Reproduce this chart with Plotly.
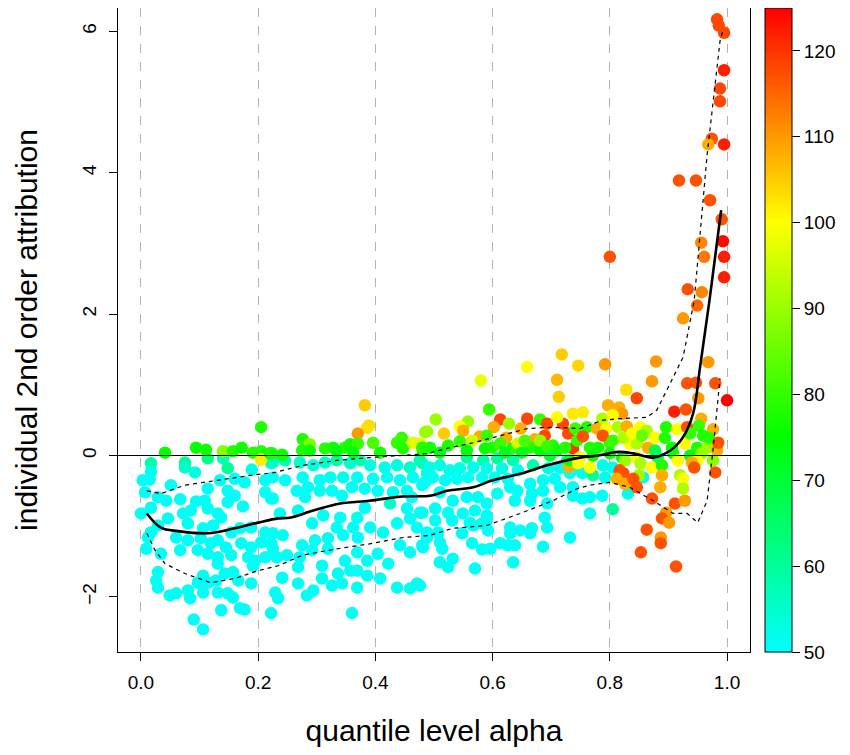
import plotly.graph_objects as go

# ---------------- data (alpha, attribution, level) ----------------
cyan_left = [
    (0.017,-0.11,58),(0.075,-0.10,60),(0.114,-0.04,62),(0.140,-0.04,56),(0.148,-0.18,60),(0.092,-0.24,53),
    (0.075,-0.17,55),(0.017,-0.23,52),(0.003,-0.35,51),(0.015,-0.34,51),(0.189,-0.20,52),(0.222,-0.11,53),
    (0.160,-0.33,51),(0.177,-0.38,51),(0.135,-0.35,51),(0.212,-0.35,51),(0.051,-0.42,51),(0.007,-0.52,51),
    (0.029,-0.59,51),(0.114,-0.47,51),(0.148,-0.50,51),(0.160,-0.57,51),(0.212,-0.52,51),(0.222,-0.61,51),
    (0.043,-0.64,51),(0.067,-0.62,51),(0.094,-0.65,51),(0.109,-0.64,51),(0.017,-0.74,51),(0.174,-0.72,51),
    (0.148,-0.66,51),(0.114,-0.75,51),(0.085,-0.78,51),(0.072,-0.82,51),(0.000,-0.82,51),(0.131,-0.82,51),
    (0.137,-0.88,51),(0.046,-0.89,51),(0.029,-0.99,51),(0.080,-0.96,51),(0.106,-1.03,51),(0.123,-0.99,51),
    (0.154,-1.09,51),(0.169,-1.03,51),(0.188,-1.02,51),(0.212,-1.09,51),(0.225,-1.10,51),(0.012,-1.16,51),
    (0.017,-1.09,51),(0.060,-1.16,51),(0.080,-1.20,51),(0.102,-1.17,51),(0.119,-1.24,51),(0.131,-1.20,51),
    (0.145,-1.30,51),(0.171,-1.24,51),(0.188,-1.30,51),(0.205,-1.23,51),(0.222,-1.24,51),(0.009,-1.32,51),
    (0.067,-1.34,51),(0.097,-1.34,51),(0.114,-1.39,51),(0.131,-1.44,51),(0.154,-1.41,51),(0.183,-1.44,51),
    (0.195,-1.49,51),(0.212,-1.44,51),(0.034,-1.39,51),(0.131,-1.53,51),(0.191,-1.56,51),(0.029,-1.65,51),
    (0.026,-1.77,51),(0.106,-1.70,51),(0.143,-1.67,51),(0.157,-1.65,51),(0.097,-1.80,51),(0.114,-1.80,51),
    (0.128,-1.77,51),(0.166,-1.77,51),(0.188,-1.81,51),(0.029,-1.87,51),(0.049,-1.98,51),(0.060,-1.95,51),
    (0.080,-1.91,51),(0.084,-2.02,51),(0.106,-1.94,51),(0.131,-1.94,51),(0.148,-1.95,51),(0.157,-2.01,51),
    (0.229,-1.94,51),(0.137,-2.19,51),(0.169,-2.16,51),(0.177,-2.18,51),(0.222,-2.23,51),(0.090,-2.32,51),
    (0.106,-2.46,51),
]

cyan_mid = [
    (0.225,-0.10,56),(0.246,-0.07,57),(0.271,-0.10,55),(0.294,-0.14,53),(0.314,-0.10,55),(0.334,-0.07,58),
    (0.357,-0.11,55),(0.374,-0.07,58),(0.391,-0.14,53),(0.416,-0.17,52),(0.437,-0.14,53),(0.459,-0.17,55),
    (0.480,-0.11,56),(0.488,-0.25,52),(0.225,-0.31,51),(0.246,-0.35,51),(0.276,-0.31,51),(0.305,-0.35,51),
    (0.323,-0.31,51),(0.345,-0.31,52),(0.369,-0.31,51),(0.396,-0.33,51),(0.420,-0.31,51),(0.442,-0.35,51),
    (0.464,-0.31,51),(0.485,-0.38,51),(0.266,-0.50,51),(0.285,-0.45,51),(0.305,-0.50,51),(0.326,-0.50,51),
    (0.343,-0.57,51),(0.360,-0.45,51),(0.382,-0.47,51),(0.404,-0.50,51),(0.430,-0.52,51),(0.454,-0.50,51),
    (0.480,-0.42,51),(0.225,-0.61,51),(0.280,-0.59,51),(0.425,-0.68,55),(0.462,-0.59,51),(0.268,-0.78,51),
    (0.292,-0.96,51),(0.311,-0.85,51),(0.340,-0.88,51),(0.369,-0.88,51),(0.382,-0.74,51),(0.454,-0.75,51),
    (0.480,-0.81,51),(0.237,-0.82,51),(0.362,-1.02,51),(0.242,-1.13,51),(0.275,-1.27,51),(0.297,-1.20,51),
    (0.319,-1.17,51),(0.334,-1.02,51),(0.345,-1.13,51),(0.370,-1.16,51),(0.391,-1.02,51),(0.413,-1.09,51),
    (0.437,-0.96,51),(0.459,-0.89,51),(0.471,-1.02,51),(0.488,-1.16,51),(0.225,-1.32,51),(0.249,-1.41,51),
    (0.232,-1.44,51),(0.271,-1.44,51),(0.292,-1.34,51),(0.319,-1.32,51),(0.348,-1.49,51),(0.369,-1.37,51),
    (0.386,-1.49,51),(0.404,-1.39,51),(0.422,-1.53,51),(0.442,-1.27,51),(0.459,-1.37,51),(0.480,-1.27,51),
    (0.357,-1.63,51),(0.268,-1.58,51),(0.241,-1.73,51),(0.309,-1.56,51),(0.336,-1.67,51),(0.369,-1.63,51),
    (0.268,-1.81,51),(0.309,-1.74,51),(0.326,-1.84,51),(0.343,-1.81,51),(0.369,-1.87,51),(0.386,-1.70,51),
    (0.408,-1.74,51),(0.437,-1.87,51),(0.459,-1.88,51),(0.471,-1.81,51),(0.283,-1.98,51),(0.294,-1.91,51),
    (0.234,-2.02,51),(0.360,-2.23,51),
]

cyan_right = [
    (0.556,-0.03,60),(0.584,-0.07,58),(0.608,-0.04,60),(0.635,-0.07,58),(0.669,-0.14,58),(0.727,-0.07,60),
    (0.476,-0.07,57),(0.493,-0.17,52),(0.510,-0.14,53),(0.527,-0.21,52),(0.544,-0.18,52),(0.567,-0.17,52),
    (0.590,-0.18,52),(0.616,-0.18,53),(0.643,-0.21,52),(0.695,-0.18,53),(0.715,-0.18,52),(0.744,-0.17,52),
    (0.481,-0.40,51),(0.498,-0.31,51),(0.519,-0.35,51),(0.539,-0.33,51),(0.558,-0.31,51),(0.582,-0.31,51),
    (0.604,-0.31,51),(0.626,-0.33,51),(0.664,-0.40,51),(0.686,-0.35,51),(0.706,-0.33,51),(0.732,-0.25,51),
    (0.737,-0.45,51),(0.715,-0.45,51),(0.686,-0.50,51),(0.667,-0.54,51),(0.642,-0.50,51),(0.630,-0.45,51),
    (0.510,-0.52,51),(0.532,-0.64,51),(0.556,-0.59,51),(0.575,-0.59,51),(0.590,-0.68,51),(0.608,-0.54,51),
    (0.638,-0.64,51),(0.664,-0.64,51),(0.693,-0.68,51),(0.476,-0.81,51),(0.502,-0.75,51),(0.524,-0.81,51),
    (0.549,-0.82,51),(0.570,-0.78,51),(0.590,-0.85,51),(0.502,-0.92,51),(0.531,-0.92,51),(0.561,-0.95,51),
    (0.582,-0.96,51),(0.689,-0.88,51),(0.693,-1.02,51),(0.667,-1.03,51),(0.630,-1.02,51),(0.647,-1.06,51),
    (0.630,-1.10,51),(0.664,-1.10,51),(0.488,-1.09,51),(0.507,-1.09,51),(0.548,-1.10,51),(0.567,-0.99,51),
    (0.590,-0.92,51),(0.592,-1.06,51),(0.481,-1.30,51),(0.510,-1.23,51),(0.514,-1.32,51),(0.565,-1.24,51),
    (0.582,-1.33,51),(0.596,-1.32,51),(0.613,-1.24,51),(0.626,-1.27,51),(0.638,-1.27,51),(0.686,-1.29,51),
    (0.732,-1.16,51),(0.510,-1.51,51),(0.532,-1.46,51),(0.524,-1.58,51),(0.570,-1.60,51),(0.635,-1.51,51),
    (0.476,-1.84,51),(0.805,-0.17,52),(0.788,-0.14,52),(0.753,-0.25,52),(0.771,-0.28,60),(0.792,-0.31,52),
    (0.857,-0.31,52),(0.737,-0.57,51),(0.753,-0.61,51),(0.766,-0.59,51),(0.787,-0.57,51),(0.831,-0.54,52),
    (0.805,-0.76,60),(0.766,-0.82,51),
]

colored_left = [
    (0.205,0.40,78),(0.041,0.04,75),(0.094,0.11,75),(0.111,0.08,76),(0.140,0.06,88),(0.157,0.06,78),
    (0.172,0.11,76),(0.191,0.04,78),(0.205,0.06,78),(0.205,-0.06,102),(0.220,0.03,77),
    (0.382,0.71,105),(0.389,0.42,104),(0.386,0.39,103),(0.370,0.31,110),(0.276,0.23,78),(0.288,0.16,88),
    (0.275,0.07,78),(0.288,0.07,76),(0.314,0.10,78),(0.328,0.11,77),(0.348,0.11,78),(0.357,0.16,77),
    (0.370,0.17,80),(0.396,0.18,82),(0.408,0.04,77),(0.437,0.18,80),(0.445,0.25,80),(0.447,0.10,78),
    (0.464,0.18,97),(0.476,0.17,97),(0.485,0.33,90),(0.481,0.07,78),(0.224,0.03,77),(0.241,0.01,76),
    (0.334,0.06,74),(0.362,0.04,74),
]

colored_mid = [
    (0.718,1.43,105),(0.659,1.25,100),(0.746,1.27,104),(0.580,1.06,98),(0.710,1.07,107),(0.713,0.83,105),
    (0.594,0.65,80),(0.503,0.51,90),(0.558,0.48,90),(0.613,0.51,118),(0.628,0.45,90),(0.659,0.52,118),
    (0.681,0.51,80),(0.693,0.45,118),(0.720,0.45,118),(0.737,0.59,102),(0.710,0.54,100),(0.544,0.41,100),
    (0.550,0.35,108),(0.517,0.31,105),(0.488,0.34,90),(0.602,0.40,108),(0.578,0.27,108),(0.623,0.25,108),
    (0.648,0.38,108),(0.672,0.23,108),(0.689,0.28,118),(0.729,0.31,118),(0.737,0.10,120),(0.730,-0.16,108),
    (0.480,0.11,78),(0.493,0.11,77),(0.524,0.14,78),(0.544,0.20,80),(0.565,0.21,95),(0.590,0.28,80),
    (0.599,0.11,78),(0.613,0.17,80),(0.633,0.10,78),(0.643,0.17,95),(0.664,0.11,78),(0.681,0.07,75),
    (0.703,0.14,78),(0.710,0.07,76),(0.724,0.11,78),(0.744,0.21,80),(0.587,0.10,76),(0.556,0.07,74),
    (0.510,0.04,73),(0.621,0.04,72),(0.650,0.04,72),(0.698,0.00,70),(0.655,0.21,82),(0.681,0.21,90),
    (0.693,0.13,80),
]

colored_right = [
    (0.766,0.11,78),(0.780,0.11,77),(0.800,0.18,80),(0.834,0.17,100),(0.846,0.17,92),(0.865,0.11,108),
    (0.877,0.07,68),(0.906,0.11,76),(0.949,0.11,78),(0.966,0.11,90),(0.983,0.07,108),(0.749,-0.03,100),
    (0.771,0.00,76),(0.800,0.03,76),(0.821,-0.03,74),(0.846,-0.03,100),(0.882,-0.03,65),(0.908,0.03,76),
    (0.937,0.00,74),(0.957,0.03,90),(0.732,-0.07,76),(0.746,-0.11,100),(0.766,-0.17,100),(0.826,-0.07,90),
    (0.852,-0.11,92),(0.872,-0.17,100),(0.889,-0.14,78),(0.916,-0.07,100),(0.949,-0.07,100),(0.976,-0.07,88),
    (0.949,2.12,115),(0.925,1.94,110),(0.792,1.29,110),(0.879,1.33,110),(0.968,1.32,110),(0.872,1.05,110),
    (0.932,1.02,117),(0.947,1.03,117),(0.980,1.02,117),(1.000,0.78,125),(0.828,0.93,103),(0.846,0.81,118),
    (0.951,0.81,110),(0.797,0.71,108),(0.816,0.68,108),(0.821,0.59,110),(0.910,0.62,122),(0.930,0.65,117),
    (0.754,0.61,102),(0.787,0.52,92),(0.805,0.57,100),(0.956,0.52,108),(0.741,0.38,80),(0.761,0.40,78),
    (0.778,0.38,108),(0.794,0.38,100),(0.814,0.40,92),(0.829,0.41,108),(0.852,0.40,100),(0.863,0.35,92),
    (0.896,0.40,78),(0.915,0.37,100),(0.932,0.40,117),(0.952,0.42,80),(0.976,0.37,108),(0.754,0.27,117),
    (0.788,0.28,117),(0.805,0.21,80),(0.823,0.25,92),(0.838,0.31,100),(0.855,0.28,85),(0.877,0.25,100),
    (0.894,0.25,78),(0.928,0.17,100),(0.937,0.31,80),(0.959,0.28,78),(0.969,0.25,78),(0.985,0.18,117),
    (0.940,-0.10,108),(0.817,-0.21,117),(0.823,-0.25,117),(0.850,-0.28,90),(0.889,-0.28,108),(0.920,-0.28,92),
    (0.944,-0.17,117),(0.980,-0.24,117),(0.812,-0.33,108),(0.826,-0.40,108),(0.840,-0.33,117),(0.925,-0.33,100),
    (0.925,-0.47,92),(0.846,-0.45,117),(0.886,-0.45,108),(0.872,-0.61,117),(0.911,-0.68,117),(0.928,-0.64,110),
    (0.896,-0.81,110),(0.889,-0.89,117),(0.901,-0.95,110),(0.863,-1.05,117),(0.887,-1.16,110),(0.887,-1.24,117),
    (0.853,-1.37,117),(0.913,-1.57,117),
]

colored_top = [
    (0.983,6.17,118),(0.986,6.08,118),(0.995,5.98,118),(0.995,5.45,122),(0.988,5.19,118),(0.988,5.01,118),
    (0.974,4.48,117),(0.968,4.40,108),(0.995,4.40,122),(0.918,3.89,117),(0.947,3.89,117),(0.971,3.61,117),
    (0.991,3.34,117),(0.993,3.03,124),(0.956,3.01,112),(0.961,2.81,113),(0.995,2.81,122),(0.800,2.81,117),
    (0.995,2.52,122),(0.933,2.35,117),(0.957,2.31,112),
]

# smoothed mean and band curves
mean_alpha = [0.01,0.034,0.063,0.114,0.16,0.2,0.234,0.254,0.294,0.34,0.39,0.447,0.493,0.522,0.567,0.60,0.647,
              0.693,0.749,0.78,0.812,0.84,0.874,0.903,0.925,0.942,0.954,0.97,0.99]
mean_attr = [-0.82,-1.02,-1.07,-1.10,-1.03,-0.95,-0.89,-0.88,-0.78,-0.68,-0.64,-0.58,-0.57,-0.50,-0.45,-0.35,-0.26,
             -0.14,-0.03,0.0,0.05,0.03,-0.03,0.07,0.26,0.59,1.25,2.19,3.47]

upper_alpha = [0.01,0.034,0.075,0.13,0.188,0.229,0.276,0.334,0.39,0.447,0.49,0.522,0.567,0.613,0.659,0.703,0.749,
               0.788,0.817,0.863,0.88,0.903,0.925,0.944,0.966,0.988,0.993]
upper_attr = [-0.50,-0.54,-0.42,-0.35,-0.28,-0.24,-0.14,-0.07,-0.03,0.0,0.03,0.10,0.18,0.28,0.38,0.40,0.38,
              0.50,0.52,0.54,0.64,1.02,1.39,2.19,4.25,5.86,6.01]

lower_alpha = [0.01,0.024,0.041,0.075,0.119,0.16,0.2,0.234,0.276,0.334,0.39,0.447,0.493,0.532,0.59,0.647,0.703,
               0.744,0.766,0.80,0.834,0.874,0.908,0.932,0.95,0.966,0.976,0.988]
lower_attr = [-1.10,-1.34,-1.53,-1.67,-1.80,-1.74,-1.63,-1.56,-1.41,-1.32,-1.25,-1.16,-1.13,-1.03,-0.99,-0.82,-0.64,
              -0.47,-0.42,-0.38,-0.45,-0.64,-0.82,-0.82,-0.95,-0.64,0.07,1.09]

x_ticks = [0.0, 0.2, 0.4, 0.6, 0.8, 1.0]
x_ticktext = ["0.0", "0.2", "0.4", "0.6", "0.8", "1.0"]
y_ticks = [-2, 0, 2, 4, 6]
y_ticktext = ["\u22122", "0", "2", "4", "6"]
cbar_ticks = [50, 60, 70, 80, 90, 100, 110, 120]

# ---------------- figure ----------------
points = cyan_left + cyan_mid + cyan_right + colored_left + colored_mid + colored_right + colored_top
px = [p[0] for p in points]
py = [p[1] for p in points]
pc = [p[2] for p in points]

FONT = "Liberation Sans, Arial, Helvetica, sans-serif"
scale = [[0.0, "#00FFFF"], [1/3, "#00FF00"], [2/3, "#FFFF00"], [1.0, "#FF0000"]]

fig = go.Figure()
fig.add_trace(go.Scatter(
    x=px, y=py, mode="markers",
    marker=dict(size=12.5, color=pc, colorscale=scale, cmin=50, cmax=125,
                line=dict(width=0),
                colorbar=dict(x=(757-110)/632, xanchor="left", xpad=0, ypad=0,
                              y=0.5, yanchor="middle", len=1, lenmode="fraction",
                              thickness=27, thicknessmode="pixels",
                              outlinewidth=1, outlinecolor="black",
                              tickvals=cbar_ticks, ticks="outside", ticklen=8,
                              tickcolor="black", tickfont=dict(size=19, color="black", family=FONT))),
    showlegend=False, hoverinfo="skip"))

fig.add_trace(go.Scatter(x=upper_alpha, y=upper_attr, mode="lines",
                         line=dict(color="black", width=1.2, dash="4px,4px"), showlegend=False))
fig.add_trace(go.Scatter(x=lower_alpha, y=lower_attr, mode="lines",
                         line=dict(color="black", width=1.2, dash="4px,4px"), showlegend=False))
fig.add_trace(go.Scatter(x=mean_alpha, y=mean_attr, mode="lines", line_shape="spline",
                         line=dict(color="black", width=2.6), showlegend=False))

fig.add_hline(y=0, line=dict(color="black", width=1.2), layer="above")

fig.update_layout(
    width=850, height=755,
    margin=dict(l=110, r=108, t=0, b=111),
    paper_bgcolor="white", plot_bgcolor="white",
    font=dict(family=FONT, color="black"),
    xaxis=dict(range=[-0.0392, 1.0392], tickvals=x_ticks, ticktext=x_ticktext,
               ticks="outside", ticklen=8, tickcolor="black", tickwidth=1,
               tickfont=dict(size=19), showline=True, mirror=True, linecolor="black", linewidth=1,
               showgrid=True, gridcolor="#B3B3B3", gridwidth=1, griddash="dash", zeroline=False,
               ticklabelstandoff=5,
               title=dict(text="quantile level alpha", font=dict(size=30), standoff=28)),
    yaxis=dict(range=[-2.78, 6.33], tickvals=y_ticks, ticktext=y_ticktext,
               ticks="outside", ticklen=8, tickcolor="black", tickwidth=1, tickangle=-90,
               tickfont=dict(size=19), showline=True, mirror=True, linecolor="black", linewidth=1,
               showgrid=False, zeroline=False, ticklabelstandoff=5,
               title=dict(text="individual 2nd order attribution", font=dict(size=30), standoff=32)),
)

fig.write_html("out.html")
